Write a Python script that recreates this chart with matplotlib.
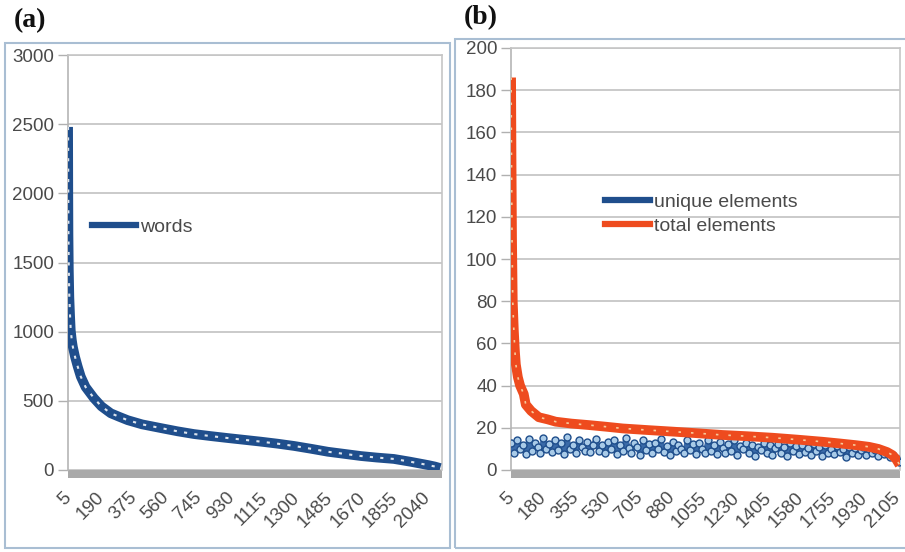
import matplotlib
matplotlib.use("Agg")
import matplotlib.pyplot as plt
from matplotlib.patches import Rectangle
from matplotlib.lines import Line2D

# ---------------- data ----------------
# panel (a): words per item (sorted, descending) read at category positions
words_x = [1, 2, 3, 5, 8, 12, 16, 22, 28, 40, 55, 73, 100, 147, 190, 243, 290, 339, 420, 527,
           620, 714, 810, 906, 1000, 1093, 1190, 1281, 1380, 1473, 1570, 1660, 1750, 1847, 1940,
           2040, 2080, 2110]
words_y = [2480, 2000, 1700, 1450, 1250, 1120, 1010, 940, 890, 820, 750, 675, 600, 520, 460, 410,
           385, 360, 330, 303, 280, 260, 245, 231, 218, 205, 190, 174, 153, 132, 116, 101, 90, 80,
           60, 36, 25, 14]
xticks_a = [5, 190, 375, 560, 745, 930, 1115, 1300, 1485, 1670, 1855, 2040]
yticks_a = [0, 500, 1000, 1500, 2000, 2500, 3000]

# panel (b): total elements (sorted) read at category positions
total_x = [1, 3, 6, 10, 16, 22, 27, 38, 50, 70, 81, 110, 152, 200, 244, 330, 424, 520, 609, 750,
           881, 1020, 1153, 1290, 1425, 1560, 1697, 1790, 1877, 1950, 2002, 2050, 2078, 2100, 2118]
total_y = [186, 150, 110, 80, 66, 56, 50, 44, 40, 36, 31, 28, 25, 24, 22.9, 22, 21.3, 20.5, 19.7,
           18.9, 18.2, 17.4, 16.6, 16.0, 15.3, 14.4, 13.4, 12.6, 11.8, 11, 10, 8.5, 7.1, 5, 2.4]
# unique elements, sampled every 16 categories
unique_y = [13, 8, 14, 10, 12, 7.5, 14.5, 9, 13, 11, 8, 15, 10, 12.5, 8.5, 14, 9.5, 13, 7.5, 15.5,
            10, 12, 8, 14, 11, 9, 13.5, 8.5, 12, 14.5, 9,
            12, 8, 13.5, 10, 14, 7.5, 12, 9, 15, 10.5, 8, 13, 11, 7, 14, 9.5, 12.5, 8, 13, 10,
            14.5, 8.5, 11.5, 7, 13.5, 9, 12, 10, 8, 14,
            9.5, 12.5, 7.5, 13, 10, 8, 14, 9, 12, 7.5, 13.5, 10.5, 8, 12.5, 9, 14, 7, 11.5, 10, 13,
            8, 12, 6.5, 11, 9.5, 13, 8, 12, 7, 10.5,
            12.5, 8, 11, 6.5, 13, 9, 11.5, 7.5, 12, 8.5, 10.5, 7, 12.5, 9, 11, 6.5, 12, 8, 10, 7.5,
            11.5, 8.5, 10, 6, 11, 8, 10.5, 7, 9.5, 11,
            7, 10, 8, 9.5, 6.5, 9, 7.5, 8, 6, 7, 5.5, 4]
unique_x = list(range(1, 1 + 16 * len(unique_y), 16))
xticks_b = [5, 180, 355, 530, 705, 880, 1055, 1230, 1405, 1580, 1755, 1930, 2105]
yticks_b = [0, 20, 40, 60, 80, 100, 120, 140, 160, 180, 200]

# ---------------- style ----------------
plt.rcParams['font.family'] = ['Liberation Sans', 'DejaVu Sans']
BLUE = '#1f4e8c'
RED = '#ee4b1e'
TXT = '#4a4a4a'
GRID = '#c6c6c6'
FRAME = '#a9bed3'

W, H = 905, 552
fig = plt.figure(figsize=(W / 100, H / 100), dpi=100)


def fx(px):
    return px / W


def fy(py):
    return 1 - py / H


# panel frames
fig.add_artist(Rectangle((fx(5), fy(548)), fx(445), (548 - 43) / H, fill=False,
                         edgecolor=FRAME, lw=1.5, transform=fig.transFigure))
fig.add_artist(Rectangle((fx(455), fy(548)), fx(452), (548 - 39) / H, fill=False,
                         edgecolor=FRAME, lw=1.5, transform=fig.transFigure))

fig.text(fx(14), fy(21), '(a)', fontsize=20, fontweight='bold', family='Liberation Serif',
         va='center', ha='left', color='#111111')
fig.text(fx(464), fy(18), '(b)', fontsize=20, fontweight='bold', family='Liberation Serif',
         va='center', ha='left', color='#111111')


def style_axes(ax, xticks, yticks, ymax, xmax, floor_px, height_px):
    ax.set_xlim(0.5, xmax)
    ax.set_ylim(0, ymax)
    ax.set_yticks(yticks)
    ax.set_xticks(xticks)
    ax.set_xticklabels([str(t) for t in xticks], rotation=45, ha='right', va='center',
                       rotation_mode='anchor', fontsize=13.5, color=TXT)
    ax.tick_params(axis='x', length=0, pad=18)
    ax.tick_params(axis='y', length=7, width=1, color='#b0b0b0', labelsize=13.5,
                   labelcolor=TXT, pad=3)
    ax.grid(axis='y', color=GRID, lw=1.3)
    ax.set_axisbelow(True)
    for s in ['top', 'right']:
        ax.spines[s].set_color(GRID)
        ax.spines[s].set_linewidth(1.2)
    ax.spines['left'].set_color('#b5b5b5')
    ax.spines['left'].set_linewidth(1.2)
    ax.spines['bottom'].set_visible(False)
    # grey floor below the plot
    ax.add_patch(Rectangle((0, -floor_px / height_px), 1, floor_px / height_px,
                           transform=ax.transAxes, facecolor='#a9a9a9', edgecolor='none',
                           clip_on=False, zorder=1))


# ---------------- panel (a) ----------------
axa = fig.add_axes([fx(68), fy(470), fx(442 - 68), (470 - 55) / H])
style_axes(axa, xticks_a, yticks_a, 3000, 2120, 8, 415)
axa.plot(words_x, words_y, color=BLUE, lw=7, solid_capstyle='butt', zorder=3)
axa.plot(words_x, words_y, color='white', lw=1.5, dashes=(1.5, 3.5), alpha=0.85, zorder=4)
leg_a = axa.legend([Line2D([], [], color=BLUE, lw=4.5)], ['words'], loc='center left',
                   bbox_to_anchor=((92 - 68) / 374, (470 - 227) / 415), frameon=False,
                   borderpad=0, borderaxespad=0, handlelength=2.25, handletextpad=0.2,
                   fontsize=14)
for t in leg_a.get_texts():
    t.set_color(TXT)

# ---------------- panel (b) ----------------
axb = fig.add_axes([fx(511), fy(470), fx(900 - 511), (470 - 48) / H])
style_axes(axb, xticks_b, yticks_b, 200, 2120, 8, 422)
axb.plot(unique_x, unique_y, color='#3a6aa8', lw=3.5, marker='o', ms=5,
         markerfacecolor='#a9cbe8', markeredgecolor=BLUE, markeredgewidth=1.0, zorder=3)
axb.plot(total_x, total_y, color=RED, lw=7, solid_capstyle='butt', zorder=4)
axb.plot(total_x, total_y, color='#f8d8a8', lw=1.2, dashes=(1.5, 6), alpha=0.9, zorder=5)
leg_b = axb.legend([Line2D([], [], color=BLUE, lw=4.5), Line2D([], [], color=RED, lw=4.5)],
                   ['unique elements', 'total elements'], loc='center left',
                   bbox_to_anchor=((605 - 511) / 389, (470 - 214) / 422), frameon=False,
                   borderpad=0, borderaxespad=0, handlelength=2.3, handletextpad=0.2,
                   labelspacing=0.35, fontsize=14)
for t in leg_b.get_texts():
    t.set_color(TXT)

fig.savefig('out.png', dpi=100)
